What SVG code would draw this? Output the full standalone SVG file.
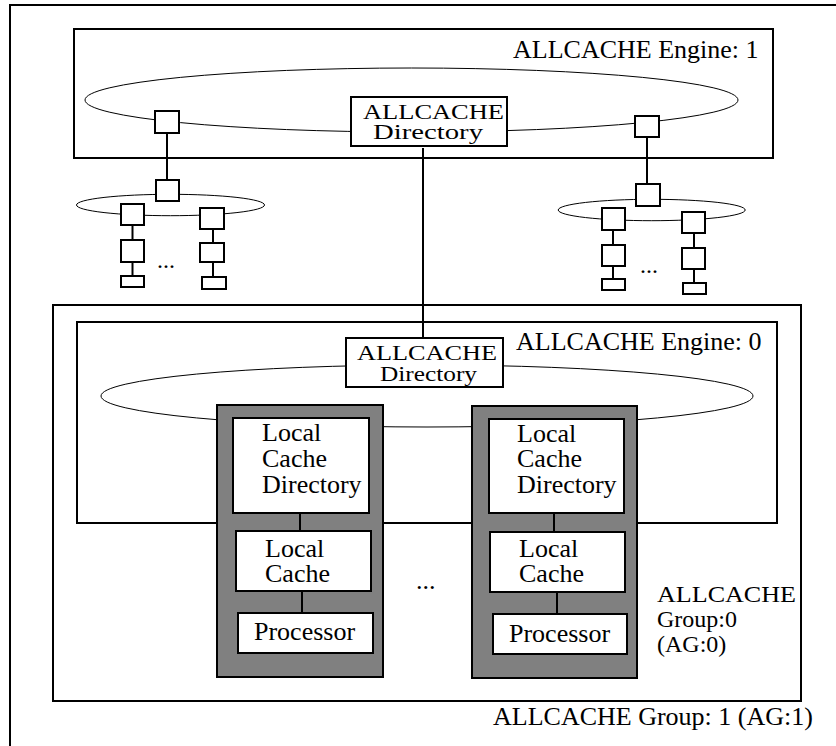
<svg xmlns="http://www.w3.org/2000/svg" width="836" height="746" viewBox="0 0 836 746">
<style>
  .frame { fill: none; stroke: #000; stroke-width: 2; }
  .box { fill: #fff; stroke: #000; stroke-width: 2; }
  .gray { fill: #808080; stroke: #000; stroke-width: 2; }
  .ring { fill: none; stroke: #000; stroke-width: 1; }
  .conn { stroke: #000; stroke-width: 2; fill: none; }
  text { font-family: "Liberation Serif", "Times New Roman", serif; font-size: 26px; fill: #000; }
  .dir { font-size: 22px; }
  .lbl { font-size: 24px; }
</style>
<rect width="836" height="746" fill="#fff"/>

<g id="allcache-group-1">
  <rect class="frame" x="10" y="5" width="840" height="760"/>
  <text x="493" y="725">ALLCACHE Group: 1 (AG:1)</text>
</g>
<g id="allcache-group-0">
  <rect class="frame" x="53" y="305" width="748" height="396"/>
  <text class="lbl" x="657" y="602" textLength="139" lengthAdjust="spacingAndGlyphs">ALLCACHE</text>
  <text class="lbl" x="657" y="627">Group:0</text>
  <text class="lbl" x="657" y="652">(AG:0)</text>
</g>
<g id="allcache-engine-1">
  <rect class="frame" x="74" y="29" width="699" height="129"/>
  <text x="513" y="58">ALLCACHE Engine: 1</text>
</g>
<g id="allcache-engine-0">
  <rect class="frame" x="77" y="322" width="700" height="201"/>
  <text x="516" y="350">ALLCACHE Engine: 0</text>
</g>

<g id="rings">
  <ellipse class="ring" cx="411.5" cy="100" rx="326.5" ry="32"/>
  <ellipse class="ring" cx="170.5" cy="205" rx="94" ry="10.7"/>
  <ellipse class="ring" cx="651.7" cy="210" rx="93.5" ry="10.7"/>
  <ellipse class="ring" cx="427" cy="396" rx="326" ry="31"/>
</g>

<g id="connectors">
  <line class="conn" x1="423" y1="148" x2="423" y2="338"/>
  <line class="conn" x1="167" y1="133" x2="167" y2="180"/>
  <line class="conn" x1="647" y1="137" x2="647" y2="184"/>
  <line class="conn" x1="132.5" y1="225" x2="132.5" y2="240"/>
  <line class="conn" x1="132.5" y1="262" x2="132.5" y2="276"/>
  <line class="conn" x1="213" y1="229" x2="213" y2="243"/>
  <line class="conn" x1="213" y1="262" x2="213" y2="277"/>
  <line class="conn" x1="613" y1="230" x2="613" y2="245"/>
  <line class="conn" x1="613" y1="266" x2="613" y2="279"/>
  <line class="conn" x1="694" y1="233" x2="694" y2="248"/>
  <line class="conn" x1="694" y1="269" x2="694" y2="283"/>
</g>

<g id="engine1-port-left"><rect class="box" x="155" y="111" width="24" height="22"/></g>
<g id="engine1-port-right"><rect class="box" x="635" y="116" width="24" height="21"/></g>
<g id="allcache-directory-1">
  <rect class="box" x="351" y="97" width="156" height="49"/>
  <text class="dir" x="363" y="119" textLength="141" lengthAdjust="spacingAndGlyphs">ALLCACHE</text>
  <text class="dir" x="373" y="139" textLength="110" lengthAdjust="spacingAndGlyphs">Directory</text>
</g>

<g id="left-subring">
  <rect class="box" x="156" y="180" width="23" height="21"/>
  <rect class="box" x="121" y="204" width="23" height="21"/>
  <rect class="box" x="200" y="208" width="24" height="21"/>
  <rect class="box" x="121" y="240" width="23" height="22"/>
  <rect class="box" x="200" y="243" width="24" height="19"/>
  <rect class="box" x="121" y="276" width="23" height="11"/>
  <rect class="box" x="202" y="277" width="24" height="12"/>
  <text x="157" y="268" style="font-size:24px">...</text>
</g>
<g id="right-subring">
  <rect class="box" x="636" y="184" width="24" height="22"/>
  <rect class="box" x="602" y="208" width="23" height="22"/>
  <rect class="box" x="682" y="212" width="23" height="21"/>
  <rect class="box" x="602" y="245" width="23" height="21"/>
  <rect class="box" x="682" y="248" width="23" height="21"/>
  <rect class="box" x="602" y="279" width="23" height="11"/>
  <rect class="box" x="683" y="283" width="23" height="11"/>
  <text x="640" y="273" style="font-size:24px">...</text>
</g>

<g id="allcache-directory-0">
  <rect class="box" x="346" y="338" width="157" height="49"/>
  <text class="dir" x="357" y="360" textLength="140" lengthAdjust="spacingAndGlyphs">ALLCACHE</text>
  <text class="dir" x="380" y="381" textLength="97" lengthAdjust="spacingAndGlyphs">Directory</text>
</g>

<g id="cell-left">
  <rect class="gray" x="217" y="405" width="166" height="272"/>
  <line class="conn" x1="300" y1="513" x2="300" y2="531"/>
  <line class="conn" x1="302" y1="591" x2="302" y2="613"/>
  <rect class="box" x="233" y="418" width="136" height="95"/>
  <text x="262" y="441">Local</text>
  <text x="262" y="467">Cache</text>
  <text x="262" y="493">Directory</text>
  <rect class="box" x="236" y="531" width="135" height="60"/>
  <text x="265" y="557">Local</text>
  <text x="265" y="582">Cache</text>
  <rect class="box" x="238" y="613" width="135" height="40"/>
  <text x="254" y="640">Processor</text>
</g>

<text id="cells-ellipsis" x="416" y="589">...</text>

<g id="cell-right">
  <rect class="gray" x="472" y="406" width="165" height="272"/>
  <line class="conn" x1="554" y1="513" x2="554" y2="532"/>
  <line class="conn" x1="557" y1="592" x2="557" y2="614"/>
  <rect class="box" x="489" y="419" width="135" height="94"/>
  <text x="517" y="442">Local</text>
  <text x="517" y="467">Cache</text>
  <text x="517" y="493">Directory</text>
  <rect class="box" x="490" y="532" width="135" height="60"/>
  <text x="519" y="557">Local</text>
  <text x="519" y="582">Cache</text>
  <rect class="box" x="493" y="614" width="134" height="40"/>
  <text x="509" y="642">Processor</text>
</g>
</svg>
